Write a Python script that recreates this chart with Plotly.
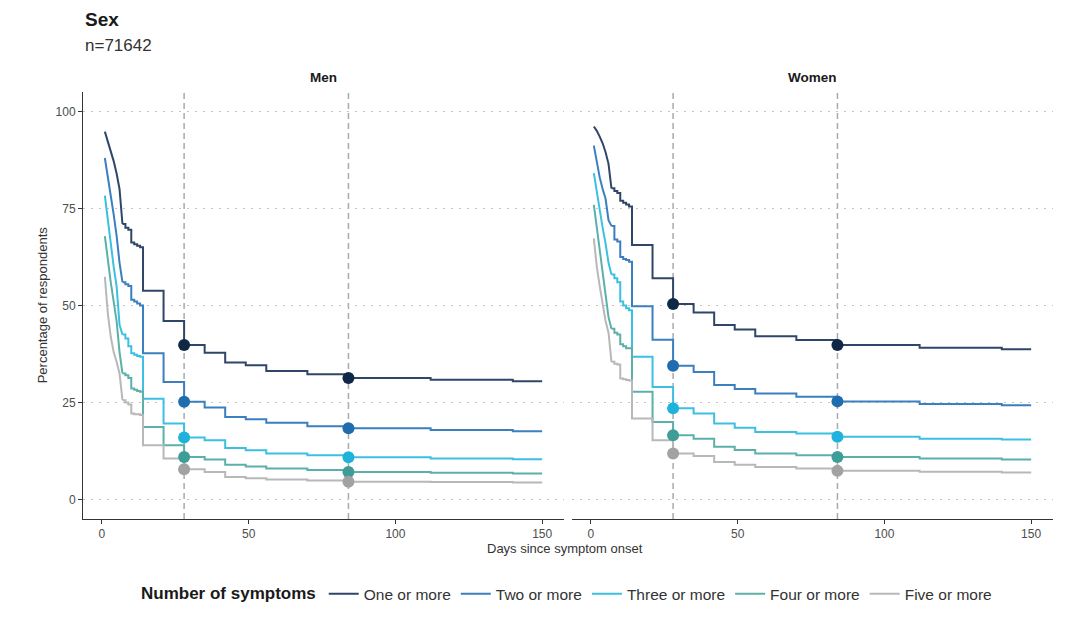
import plotly.graph_objects as go

# ---------------- data ----------------
DAYS = [1, 2, 3, 4, 5, 6, 7, 8, 9, 10, 11, 12, 13, 14,
        21, 28, 35, 42, 49, 56, 70, 84, 112, 140, 150]

SERIES = ["One or more", "Two or more", "Three or more", "Four or more", "Five or more"]

men_one = [94.8, 92.3, 89.8, 87.2, 84.0, 80.0, 71.0, 70.0, 69.5, 66.2, 65.8, 65.4, 65.0, 53.8,
           46.0, 39.8, 37.8, 35.3, 34.6, 33.1, 32.3, 31.3, 30.9, 30.5, 30.5]
men_two = [88.0, 83.5, 78.5, 73.5, 68.0, 61.0, 56.0, 55.5, 55.0, 51.5, 51.0, 50.5, 50.0, 37.7,
           30.3, 25.2, 23.7, 21.3, 20.7, 19.8, 18.9, 18.4, 17.9, 17.6, 17.6]
men_three = [78.3, 72.0, 66.0, 60.0, 55.0, 45.0, 42.5, 41.5, 39.5, 37.7, 37.3, 37.0, 36.8, 26.0,
             19.6, 16.0, 15.3, 13.3, 12.7, 11.9, 11.4, 10.9, 10.6, 10.4, 10.4]
men_four = [67.9, 61.5, 56.0, 51.0, 46.0, 38.0, 32.5, 32.0, 31.3, 28.6, 28.3, 28.0, 27.8, 18.7,
            14.0, 11.0, 10.3, 9.0, 8.5, 8.0, 7.6, 7.1, 6.9, 6.7, 6.7]
men_five = [57.4, 48.0, 42.0, 38.0, 35.5, 32.5, 25.6, 25.0, 24.5, 22.2, 22.0, 22.0, 21.8, 14.0,
            10.6, 7.8, 7.1, 5.8, 5.5, 5.2, 4.9, 4.6, 4.5, 4.4, 4.4]

women_one = [96.1, 95.0, 93.5, 91.8, 89.5, 86.5, 80.2, 79.5, 79.0, 77.0, 76.5, 76.0, 75.5, 65.6,
             57.0, 50.4, 48.2, 45.0, 43.8, 42.1, 41.1, 39.8, 39.1, 38.7, 38.7]
women_two = [91.2, 87.0, 83.0, 80.0, 77.5, 72.0, 70.5, 67.0, 66.5, 62.5, 62.0, 61.7, 61.3, 49.8,
             41.2, 34.5, 32.9, 29.5, 28.5, 27.3, 26.5, 25.3, 24.6, 24.3, 24.3]
women_three = [84.1, 79.0, 74.0, 70.0, 66.0, 61.0, 58.0, 57.0, 56.0, 51.0, 50.0, 49.3, 48.8, 36.8,
               29.0, 23.5, 22.2, 19.6, 18.5, 17.4, 17.0, 16.2, 15.7, 15.5, 15.5]
women_four = [75.9, 70.0, 64.0, 58.0, 52.0, 47.0, 44.0, 43.0, 42.5, 40.0, 39.5, 39.0, 39.0, 27.8,
              20.0, 16.6, 15.7, 13.6, 12.8, 11.9, 11.4, 11.0, 10.6, 10.3, 10.3]
women_five = [67.3, 60.0, 55.0, 50.0, 46.0, 43.0, 35.5, 35.0, 34.8, 31.2, 31.0, 30.8, 30.7, 20.9,
              15.3, 11.9, 11.2, 9.7, 9.0, 8.4, 8.0, 7.4, 7.2, 7.0, 7.0]

MILESTONE_DAYS = [28, 84]
X_TICKS = [0, 50, 100, 150]
Y_TICKS = [0, 25, 50, 75, 100]

PANELS = {
    "Men": [men_one, men_two, men_three, men_four, men_five],
    "Women": [women_one, women_two, women_three, women_four, women_five],
}

# ---------------- styles ----------------
LINE_COLORS = ["#2f4669", "#3b7fbf", "#3cc0e2", "#5cb0aa", "#b8b8b8"]
MARKER_COLORS = ["#0e2846", "#1f6caf", "#1fb3dc", "#3f9d97", "#a2a2a2"]
FONT = "Liberation Sans, Arial, sans-serif"
EARLY = 7  # number of first daily points drawn as a continuous decline

fig = go.Figure()

axis_ids = {"Men": ("x", "y"), "Women": ("x2", "y2")}
for p_i, (panel, series_vals) in enumerate(PANELS.items()):
    xa, ya = axis_ids[panel]
    for s_i, (name, vals) in enumerate(zip(SERIES, series_vals)):
        # early daily decline
        fig.add_trace(go.Scatter(
            x=DAYS[:EARLY], y=vals[:EARLY], mode="lines", line_shape="linear",
            line=dict(color=LINE_COLORS[s_i], width=2),
            name=name, legendgroup=name, showlegend=False,
            xaxis=xa, yaxis=ya, hoverinfo="skip",
        ))
        # step function afterwards
        fig.add_trace(go.Scatter(
            x=DAYS[EARLY - 1:], y=vals[EARLY - 1:], mode="lines", line_shape="hv",
            line=dict(color=LINE_COLORS[s_i], width=2),
            name=name, legendgroup=name, showlegend=(p_i == 0),
            xaxis=xa, yaxis=ya, hoverinfo="skip",
        ))
    for s_i, (name, vals) in enumerate(zip(SERIES, series_vals)):
        mx = list(MILESTONE_DAYS)
        my = [vals[DAYS.index(d)] for d in MILESTONE_DAYS]
        fig.add_trace(go.Scatter(
            x=mx, y=my, mode="markers",
            marker=dict(color=MARKER_COLORS[s_i], size=12, line=dict(width=0)),
            name=name, legendgroup=name, showlegend=False,
            xaxis=xa, yaxis=ya, hoverinfo="skip",
        ))

# dashed milestone lines
for xa in ["x", "x2"]:
    for d in MILESTONE_DAYS:
        fig.add_shape(type="line", xref=xa, yref=("y domain" if xa == "x" else "y2 domain"),
                      x0=d, x1=d, y0=0, y1=1,
                      line=dict(color="#aaaaaa", width=1.5, dash="6px,4px"), layer="below")

xcommon = dict(range=[-6.45, 157.45], tickvals=X_TICKS, ticks="outside", ticklen=4,
               tickcolor="#333333", showline=True, linecolor="#333333", linewidth=1,
               showgrid=False, zeroline=False, tickfont=dict(family=FONT, size=12, color="#4d4d4d"))
ycommon = dict(range=[-5, 105], tickvals=Y_TICKS, showgrid=True, gridcolor="#c4c4c4",
               griddash="2px,6px", gridwidth=1, zeroline=False)

# page has an 8px body margin: figure is sized/offset so the plot lands where the reference has it
fig.update_layout(
    width=1064, height=602,
    margin=dict(l=75, r=19, t=84, b=91, autoexpand=False),
    plot_bgcolor="white", paper_bgcolor="white",
    font=dict(family=FONT, color="#333333"),
    xaxis=dict(domain=[0, 0.4959], anchor="y", automargin=False, **xcommon),
    xaxis2=dict(domain=[0.5041, 1], anchor="y2", automargin=False, **xcommon),
    yaxis=dict(anchor="x", ticks="outside", ticklen=4, tickcolor="#333333",
               showline=True, linecolor="#333333", linewidth=1, automargin=False,
               tickfont=dict(family=FONT, size=12, color="#4d4d4d"), **ycommon),
    yaxis2=dict(anchor="x2", matches="y", showticklabels=False, ticks="", showline=False,
                automargin=False, **ycommon),
    legend=dict(orientation="h", x=0.5, xanchor="center", y=-0.176, yanchor="middle",
                title=dict(text="<b>Number of symptoms</b>", font=dict(family=FONT, size=17, color="#1a1a1a")),
                font=dict(family=FONT, size=15.5, color="#333333"),
                itemwidth=30, tracegroupgap=0),
    showlegend=True,
)

annotations = [
    dict(text="<b>Sex</b>", x=0, y=1.169, xref="paper", yref="paper", xanchor="left", yanchor="middle",
         showarrow=False, font=dict(family=FONT, size=19, color="#1a1a1a")),
    dict(text="n=71642", x=0, y=1.108, xref="paper", yref="paper", xanchor="left", yanchor="middle",
         showarrow=False, font=dict(family=FONT, size=17, color="#333333")),
    dict(text="<b>Men</b>", x=0.248, y=1.033, xref="paper", yref="paper", xanchor="center", yanchor="middle",
         showarrow=False, font=dict(family=FONT, size=13.5, color="#1a1a1a")),
    dict(text="<b>Women</b>", x=0.752, y=1.033, xref="paper", yref="paper", xanchor="center", yanchor="middle",
         showarrow=False, font=dict(family=FONT, size=13.5, color="#1a1a1a")),
    dict(text="Days since symptom onset", x=0.497, y=-0.068, xref="paper", yref="paper",
         xanchor="center", yanchor="middle", showarrow=False,
         font=dict(family=FONT, size=13, color="#333333")),
    dict(text="Percentage of respondents", x=-0.042, y=0.501, xref="paper", yref="paper",
         xanchor="center", yanchor="middle", textangle=-90, showarrow=False,
         font=dict(family=FONT, size=13, color="#333333")),
]
fig.update_layout(annotations=annotations)

fig.write_html("out.html")
